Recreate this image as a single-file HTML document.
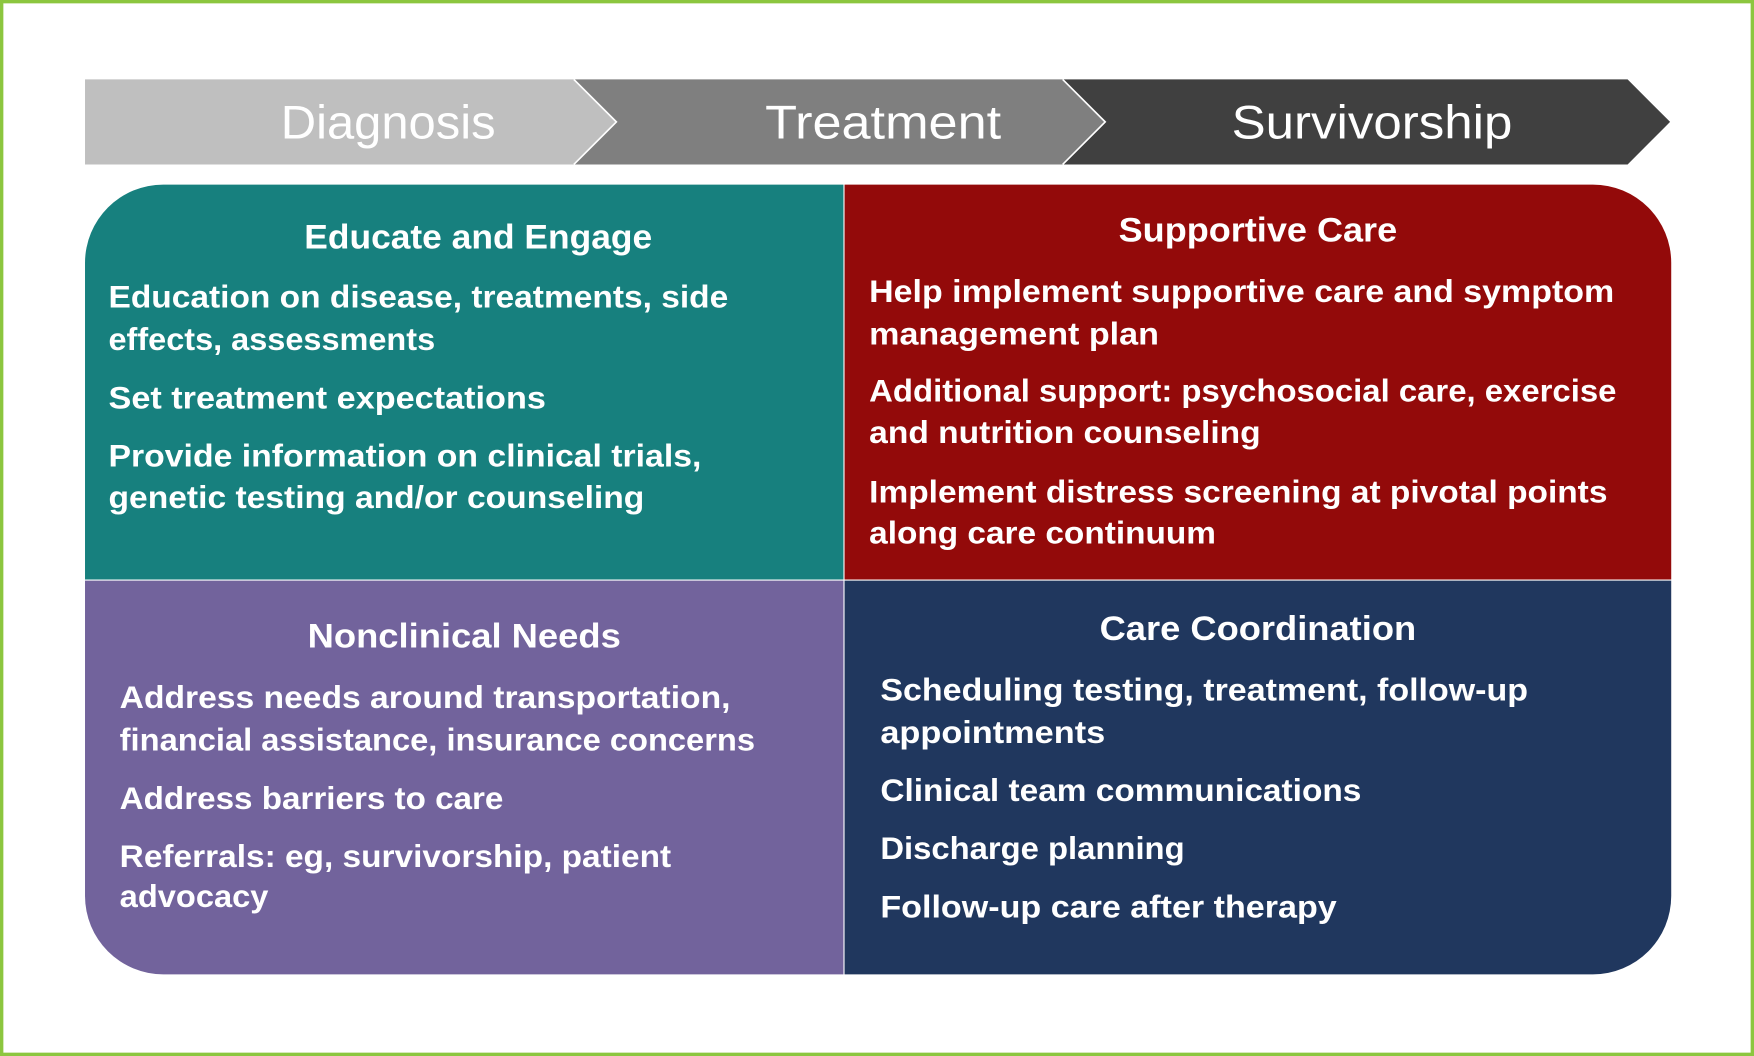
<!DOCTYPE html>
<html><head><meta charset="utf-8"><style>
html,body{margin:0;padding:0;background:#fff;}
svg{display:block;}
text{font-family:"Liberation Sans",sans-serif;font-weight:bold;fill:#fff;}
</style></head><body>
<svg width="1754" height="1056" viewBox="0 0 1568 944" preserveAspectRatio="none" xmlns="http://www.w3.org/2000/svg">
<rect x="0" y="0" width="1568" height="944" fill="#fff"/>
<rect x="1.5" y="1.5" width="1565" height="941" fill="none" stroke="#8cc63f" stroke-width="3"/>
<!-- chevrons -->
<polygon points="76,71 513,71 551,109 513,147 76,147" fill="#bfbfbf"/>
<polygon points="513,71 950,71 988,109 950,147 513,147 551,109" fill="#7f7f7f"/>
<polygon points="950,71 1455,71 1493,109 1455,147 950,147 988,109" fill="#404040"/>
<polyline points="513,71 551,109 513,147" fill="none" stroke="#fff" stroke-width="1.5"/>
<polyline points="950,71 988,109 950,147" fill="none" stroke="#fff" stroke-width="1.5"/>
<g style="font-weight:normal">
<text x="251" y="124" font-size="42" textLength="192" lengthAdjust="spacingAndGlyphs" style="font-weight:normal">Diagnosis</text>
<text x="684" y="124" font-size="42" textLength="211" lengthAdjust="spacingAndGlyphs" style="font-weight:normal">Treatment</text>
<text x="1101" y="124" font-size="42" textLength="251" lengthAdjust="spacingAndGlyphs" style="font-weight:normal">Survivorship</text>
</g>
<!-- quadrants -->
<path d="M76,235 A70,70 0 0 1 146,165 L754,165 L754,518 L76,518 Z" fill="#17807e"/>
<path d="M755,165 L1424,165 A70,70 0 0 1 1494,235 L1494,518 L755,518 Z" fill="#930a0a"/>
<path d="M76,519 L754,519 L754,871 L146,871 A70,70 0 0 1 76,801 Z" fill="#72639c"/>
<path d="M755,519 L1494,519 L1494,801 A70,70 0 0 1 1424,871 L755,871 Z" fill="#20375e"/>
<!-- TL -->
<text x="272" y="222" font-size="31" textLength="311" lengthAdjust="spacingAndGlyphs">Educate and Engage</text>
<g font-size="28">
<text x="97" y="275" textLength="554" lengthAdjust="spacingAndGlyphs">Education on disease, treatments, side</text>
<text x="97" y="313" textLength="292" lengthAdjust="spacingAndGlyphs">effects, assessments</text>
<text x="97" y="365" textLength="391" lengthAdjust="spacingAndGlyphs">Set treatment expectations</text>
<text x="97" y="417" textLength="530" lengthAdjust="spacingAndGlyphs">Provide information on clinical trials,</text>
<text x="97" y="454" textLength="479" lengthAdjust="spacingAndGlyphs">genetic testing and/or counseling</text>
</g>
<!-- TR -->
<text x="1000" y="216" font-size="31" textLength="249" lengthAdjust="spacingAndGlyphs">Supportive Care</text>
<g font-size="28">
<text x="777" y="270" textLength="666" lengthAdjust="spacingAndGlyphs">Help implement supportive care and symptom</text>
<text x="777" y="308" textLength="259" lengthAdjust="spacingAndGlyphs">management plan</text>
<text x="777" y="359" textLength="668" lengthAdjust="spacingAndGlyphs">Additional support: psychosocial care, exercise</text>
<text x="777" y="396" textLength="350" lengthAdjust="spacingAndGlyphs">and nutrition counseling</text>
<text x="777" y="449" textLength="660" lengthAdjust="spacingAndGlyphs">Implement distress screening at pivotal points</text>
<text x="777" y="486" textLength="310" lengthAdjust="spacingAndGlyphs">along care continuum</text>
</g>
<!-- BL -->
<text x="275" y="579" font-size="31" textLength="280" lengthAdjust="spacingAndGlyphs">Nonclinical Needs</text>
<g font-size="28">
<text x="107" y="633" textLength="546" lengthAdjust="spacingAndGlyphs">Address needs around transportation,</text>
<text x="107" y="671" textLength="568" lengthAdjust="spacingAndGlyphs">financial assistance, insurance concerns</text>
<text x="107" y="723" textLength="343" lengthAdjust="spacingAndGlyphs">Address barriers to care</text>
<text x="107" y="775" textLength="493" lengthAdjust="spacingAndGlyphs">Referrals: eg, survivorship, patient</text>
<text x="107" y="811" textLength="133" lengthAdjust="spacingAndGlyphs">advocacy</text>
</g>
<!-- BR -->
<text x="983" y="572" font-size="31" textLength="283" lengthAdjust="spacingAndGlyphs">Care Coordination</text>
<g font-size="28">
<text x="787" y="626" textLength="579" lengthAdjust="spacingAndGlyphs">Scheduling testing, treatment, follow-up</text>
<text x="787" y="664" textLength="201" lengthAdjust="spacingAndGlyphs">appointments</text>
<text x="787" y="716" textLength="430" lengthAdjust="spacingAndGlyphs">Clinical team communications</text>
<text x="787" y="768" textLength="272" lengthAdjust="spacingAndGlyphs">Discharge planning</text>
<text x="787" y="820" textLength="408" lengthAdjust="spacingAndGlyphs">Follow-up care after therapy</text>
</g>
</svg>
</body></html>
